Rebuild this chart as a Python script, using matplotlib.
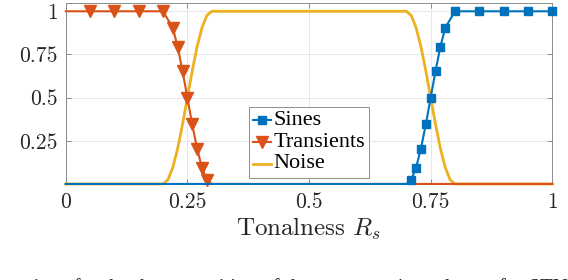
import matplotlib
matplotlib.use("Agg")
import matplotlib.pyplot as plt

# Data
sines_x = [0, 0.70, 0.71, 0.72, 0.73, 0.74, 0.75, 0.76, 0.77, 0.78, 0.80, 0.85, 0.90, 0.95, 1.0]
sines_y = [0, 0, 0.024, 0.095, 0.205, 0.345, 0.5, 0.655, 0.795, 0.905, 1, 1, 1, 1, 1]
sines_marks = list(range(2, len(sines_x)))

trans_x = [0, 0.05, 0.10, 0.15, 0.20, 0.22, 0.23, 0.24, 0.25, 0.26, 0.27, 0.28, 0.29, 0.30, 1.0]
trans_y = [1, 1, 1, 1, 1, 0.905, 0.795, 0.655, 0.5, 0.345, 0.205, 0.095, 0.024, 0, 0]
trans_marks = list(range(1, 13))

noise_x = [0, 0.20, 0.21, 0.22, 0.23, 0.24, 0.25, 0.26, 0.27, 0.28, 0.29, 0.30,
           0.70, 0.71, 0.72, 0.73, 0.74, 0.75, 0.76, 0.77, 0.78, 0.79, 0.80, 1.0]
noise_y = [0, 0, 0.024, 0.095, 0.205, 0.345, 0.5, 0.655, 0.795, 0.905, 0.976, 1,
           1, 0.976, 0.905, 0.795, 0.655, 0.5, 0.345, 0.205, 0.095, 0.024, 0, 0]

x_ticks = [0, 0.25, 0.5, 0.75, 1]
x_labels = ["0", "0.25", "0.5", "0.75", "1"]
y_ticks = [0.25, 0.5, 0.75, 1]
y_labels = ["0.25", "0.5", "0.75", "1"]

caption = "Fig. 4: Functions for the decomposition of the spectrum into classes for STN"

plt.rcParams["font.family"] = ["cmr10", "DejaVu Serif"]
plt.rcParams["mathtext.fontset"] = "cm"
plt.rcParams["axes.formatter.use_mathtext"] = True

blue = "#0072BD"
orange = "#D95319"
yellow = "#EDB120"

fig = plt.figure(figsize=(5.68, 2.8), dpi=100)
ax = fig.add_axes([0.1157, 0.343, 0.8567, 0.6475])

ax.plot(noise_x, noise_y, color=yellow, lw=2.0, label="Noise", zorder=2, clip_on=False)
ax.plot(trans_x, trans_y, color=orange, lw=1.5, marker="v", ms=8.5, markevery=trans_marks,
        label="Transients", zorder=3, clip_on=False)
ax.plot(sines_x, sines_y, color=blue, lw=1.5, marker="s", ms=5.5, markevery=sines_marks,
        label="Sines", zorder=4, clip_on=False)

ax.set_xlim(0, 1)
ax.set_ylim(0, 1.05)
ax.set_xticks(x_ticks)
ax.set_xticklabels(x_labels)
ax.set_yticks(y_ticks)
ax.set_yticklabels(y_labels)
ax.tick_params(direction="in", length=3.5, width=0.6, colors="#808080",
               labelcolor="#262626", labelsize=15.5, top=True, right=True, pad=6)
ax.grid(True, color="#e3e3e3", lw=0.6)
ax.set_axisbelow(True)
for sp in ax.spines.values():
    sp.set_color("#8c8c8c")
    sp.set_linewidth(0.7)

ax.set_xlabel(r"Tonalness $R_s$", fontsize=18, color="#262626", labelpad=3)

handles, labels = ax.get_legend_handles_labels()
order = [2, 1, 0]
leg = ax.legend([handles[i] for i in order], [labels[i] for i in order],
                loc="lower left", bbox_to_anchor=(0.377, 0.035), borderaxespad=0,
                handlelength=1.25, handletextpad=0.2, borderpad=0.3,
                labelspacing=0.2, fancybox=False, framealpha=1)
for t in leg.get_texts():
    t.set_family(["Liberation Serif"])
    t.set_fontsize(16)
leg.get_frame().set_edgecolor("#8c8c8c")
leg.get_frame().set_linewidth(0.7)

fig.text(1.0, -0.045, caption, ha="right", va="baseline", fontsize=15,
         family=["Liberation Serif"], color="#262626")

plt.savefig("out.png", dpi=100)
